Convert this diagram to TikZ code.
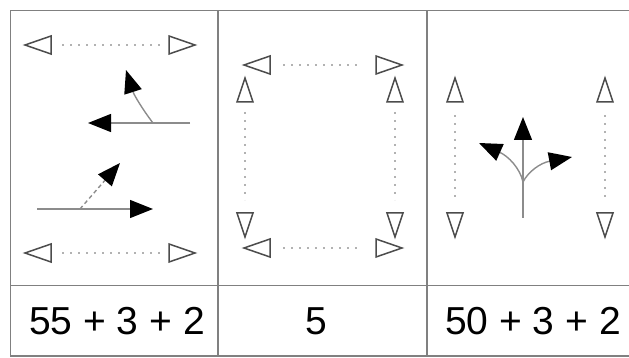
\documentclass[tikz,border=0pt]{standalone}
\usepackage{fontspec}
\setmainfont{Liberation Sans}
\usetikzlibrary{arrows.meta}
\definecolor{frame}{gray}{0.5}
\definecolor{triline}{gray}{0.3}
\definecolor{stem}{gray}{0.55}
\definecolor{dots}{gray}{0.7}
\tikzset{
  frameline/.style={draw=frame,line width=1.4pt},
  tristyle/.style={draw=triline,line width=1.5pt,fill=white,line join=miter},
  dotline/.style={draw=dots,line width=1.3pt,dash pattern=on 2pt off 6pt},
  stemline/.style={draw=stem,line width=1.4pt,-{Triangle[length=23pt,width=18pt,color=black,fill=black]}},
  dashstem/.style={stemline,dash pattern=on 4pt off 3pt},
  numtext/.style={font=\fontsize{39}{44}\selectfont,inner sep=0pt,anchor=center},
  triR/.pic={\path[tristyle] (0,0) -- (-26,-9) -- (-26,9) -- cycle;},
  triL/.pic={\path[tristyle] (0,0) -- (26,-9) -- (26,9) -- cycle;},
  triU/.pic={\path[tristyle] (0,0) -- (-8,24) -- (8,24) -- cycle;},
  triD/.pic={\path[tristyle] (0,0) -- (-8,-24) -- (8,-24) -- cycle;},
}
\begin{document}
\begin{tikzpicture}[x=1pt,y=-1pt]
\useasboundingbox (0,0) rectangle (629,358);
% frame
\draw[frameline] (629,10.5) -- (10.5,10.5) -- (10.5,356) -- (629,356);
\draw[frameline] (10.5,285.5) -- (629,285.5);
\draw[frameline] (218,10.5) -- (218,356);
\draw[frameline] (427,10.5) -- (427,356);

% ---------- panel 1 ----------
\draw[dotline] (62,45) -- (162,45);
\draw[dotline] (62,253) -- (162,253);
\pic at (25,45) {triL};
\pic at (195,45) {triR};
\pic at (25,253) {triL};
\pic at (195,253) {triR};
\coordinate (a1s) at (190,123);
\coordinate (a1t) at (88,123);
\coordinate (a1b) at (153,123);
\coordinate (a1c) at (126,70);
\draw[stemline] (a1s) -- (a1t);
\draw[stemline] (a1b) .. controls (143,110) and (134,95) .. (a1c);
\coordinate (a2s) at (37,209);
\coordinate (a2t) at (153,209);
\coordinate (a2b) at (80,209);
\coordinate (a2c) at (120,163);
\draw[stemline] (a2s) -- (a2t);
\draw[dashstem] (a2b) -- (a2c);

% ---------- panel 2 ----------
\draw[dotline] (283,65) -- (362,65);
\draw[dotline] (283,248) -- (362,248);
\draw[dotline] (245,112) -- (245,200);
\draw[dotline] (395,112) -- (395,200);
\pic at (244,65) {triL};
\pic at (402,65) {triR};
\pic at (244,248) {triL};
\pic at (402,248) {triR};
\pic at (245,78) {triU};
\pic at (395,78) {triU};
\pic at (245,237) {triD};
\pic at (395,237) {triD};

% ---------- panel 3 ----------
\draw[dotline] (455,115) -- (455,198);
\draw[dotline] (605,115) -- (605,198);
\pic at (455,78) {triU};
\pic at (605,78) {triU};
\pic at (455,237) {triD};
\pic at (605,237) {triD};
\coordinate (t0) at (523,218);
\coordinate (tj) at (523,182);
\coordinate (tt) at (523,117);
\coordinate (tl) at (479,143);
\coordinate (tr) at (572,157);
\draw[stemline] (t0) -- (tt);
\draw[stemline] (tj) .. controls (520,168) and (508,156) .. (tl);
\draw[stemline] (tj) .. controls (528,172) and (540,163) .. (tr);

% ---------- numbers ----------
\node[numtext] (n1) at (117,321) {55 + 3 + 2};
\node[numtext] (n2) at (316,321) {5};
\node[numtext] (n3) at (533,321) {50 + 3 + 2};
\end{tikzpicture}
\end{document}
